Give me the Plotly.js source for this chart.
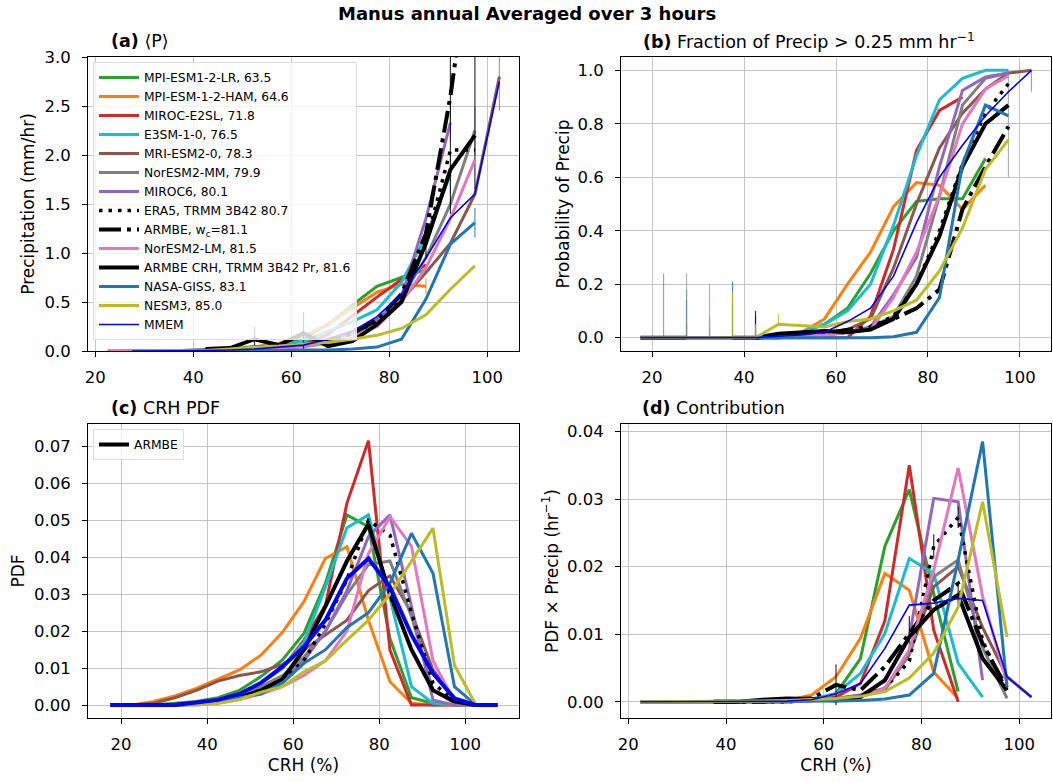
<!DOCTYPE html>
<html><head><meta charset="utf-8">
<script src="https://cdn.plot.ly/plotly-3.0.1.min.js"></script>
<style>html,body{margin:0;padding:0;background:#fff}</style>
</head><body><div id="chart" style="width:1053px;height:782px"></div>
<script>
// ---------------- DATA ----------------
const crhA = [22.5,27.5,32.5,37.5,42.5,47.5,52.5,57.5,62.5,67.5,72.5,77.5,82.5,87.5,92.5,97.5,102.5];
const crhB = [17.5,22.5,27.5,32.5,37.5,42.5,47.5,52.5,57.5,62.5,67.5,72.5,77.5,82.5,87.5,92.5,97.5,102.5];
const crhC = [17.5,22.5,27.5,32.5,37.5,42.5,47.5,52.5,57.5,62.5,67.5,72.5,77.5,82.5,87.5,92.5,97.5,102.5,107.5];
const crhD = [22.5,27.5,32.5,37.5,42.5,47.5,52.5,57.5,62.5,67.5,72.5,77.5,82.5,87.5,92.5,97.5,102.5];

const seriesNames = ['MPI-ESM1-2-LR, 63.5','MPI-ESM-1-2-HAM, 64.6','MIROC-E2SL, 71.8','E3SM-1-0, 76.5','MRI-ESM2-0, 78.3','NorESM2-MM, 79.9','MIROC6, 80.1','ERA5, TRMM 3B42 80.7','ARMBE, w<sub>c</sub>=81.1','NorESM2-LM, 81.5','ARMBE CRH, TRMM 3B42 Pr, 81.6','NASA-GISS, 83.1','NESM3, 85.0','MMEM'];

// (a) mean precipitation (mm/hr)
const a_LR     = [null,0,0,0.005,0.01,0.02,0.04,0.07,0.13,0.27,0.47,0.66,0.75,0.83,null,null,null];
const a_HAM    = [null,0,0,0.005,0.01,0.02,0.04,0.08,0.15,0.27,0.44,0.6,0.68,0.66,null,null,null];
const a_E2SL   = [null,null,0,0,0.005,0.01,0.02,0.03,0.07,0.17,0.36,0.55,0.73,0.88,null,null,null];
const a_E3SM   = [null,0,0,0,0.01,0.02,0.04,0.06,0.1,0.2,0.3,0.42,0.7,1.17,1.8,null,null];
const a_MRI    = [0,0,0,0.005,0.01,0.02,0.03,0.04,0.07,0.12,0.2,0.32,0.52,0.8,1.1,1.6,2.8];
const a_MM     = [null,0,0,0,0.005,0.01,0.02,0.03,0.05,0.1,0.17,0.3,0.55,0.95,1.5,2.25,null];
const a_MIROC6 = [null,0,0,0,0.005,0.01,0.02,0.03,0.05,0.09,0.16,0.3,0.56,1.35,2.33,null,null];
const a_ERA5   = [null,null,null,null,0.005,0.01,0.02,0.03,0.05,0.1,0.18,0.3,0.55,1.1,2.05,2.05,null];
const a_ARMBEwc= [null,null,null,null,0.01,0.02,0.03,0.04,0.06,0.1,0.18,0.32,0.58,1.2,2.6,4.4,null];
const a_LM     = [0,0,0,0,0.005,0.01,0.02,0.03,0.04,0.08,0.14,0.25,0.5,0.85,1.35,1.95,null];
const a_ARMBE  = [null,null,null,null,0.02,0.03,0.12,0.06,0.18,0.05,0.1,0.27,0.5,1.1,1.85,2.2,null];
const a_GISS   = [null,0,0,0,0,0,0,0.005,0.01,0.01,0.02,0.04,0.12,0.53,1.09,1.31,null];
const a_NESM3  = [null,0,0,0,0.005,0.02,0.04,0.05,0.07,0.09,0.12,0.16,0.23,0.37,0.63,0.87,null];
const a_MMEM   = [null,0,0,0,0.005,0.01,0.02,0.04,0.06,0.12,0.2,0.35,0.58,0.95,1.36,1.6,2.75];
// (a) error bars (symmetric)
const ea_HAM    = [0,0,0,0,0,0,0,0,0,0,0,0,0,0.08,0,0,0];
const ea_E3SM   = [0,0,0,0,0,0,0,0,0,0,0,0,0,0,0.2,0,0];
const ea_MRI    = [0,0,0,0,0,0,0,0,0,0,0,0,0,0,0,0,0.35];
const ea_MM     = [0,0,0,0,0,0,0,0,0,0,0,0,0,0,0,0.25,0];
const ea_MIROC6 = [0,0,0,0,0,0,0,0,0,0,0,0,0,0,0.18,0,0];
const ea_ARMBEwc= [0,0,0,0,0,0,0,0,0,0,0,0,0,0,1.2,2.75,0];
const ea_ARMBE  = [0,0,0,0,0,0,0.13,0,0.22,0,0,0,0,0.16,0,0,0];
const ea_GISS   = [0,0,0,0,0,0,0,0,0,0,0,0,0,0,0,0.15,0];

// (b) fraction of precip > 0.25 mm/hr
const b_LR     = [0,0,0,0,0,0,0.005,0.02,0.05,0.11,0.24,0.4,0.51,0.52,0.52,0.67,null,null];
const b_HAM    = [0,0,0,0,0,0,0.005,0.02,0.07,0.2,0.32,0.49,0.58,0.57,0.48,0.57,null,null];
const b_E2SL   = [0,0,0,0,0,0,0,0,0,0,0.08,0.33,0.7,0.85,0.9,null,null,null];
const b_E3SM   = [0,0,0,0,0,0,0.01,0.02,0.05,0.1,0.2,0.42,0.68,0.89,0.97,1.0,1.0,null];
const b_MRI    = [0,0,0,0,0,0,0,0.01,0.02,0.03,0.07,0.26,0.5,0.71,0.84,0.93,0.99,1.0];
const b_MM     = [0,0,0,0,0,0,0,0.005,0.01,0.02,0.04,0.08,0.23,0.53,0.87,0.97,0.99,null];
const b_MIROC6 = [0,0,0,0,0,0,0,0.005,0.01,0.02,0.04,0.16,0.3,0.64,0.925,0.975,0.99,null];
const b_ERA5   = [null,null,null,null,null,0,0.005,0.01,0.015,0.02,0.04,0.08,0.2,0.4,0.65,0.84,0.95,null];
const b_ARMBEwc= [null,null,null,null,null,0,0.005,0.01,0.015,0.03,0.04,0.07,0.11,0.18,0.48,0.64,0.79,null];
const b_LM     = [0,0,0,0,0,0,0,0.005,0.01,0.02,0.03,0.15,0.32,0.53,0.8,0.93,0.98,null];
const b_ARMBE  = [0,0,0,null,0,0,0.015,0.02,0.025,0.02,0.03,0.07,0.2,0.38,0.64,0.8,0.87,null];
const b_GISS   = [0,0,0,0,0,0,0,0,0,0,0,0.003,0.02,0.15,0.65,0.87,0.83,null];
const b_NESM3  = [0,0,0,0,0,0,0.05,0.045,0.04,0.06,0.07,0.1,0.14,0.25,0.41,0.63,0.74,null];
const b_MMEM   = [0,0,0,0,0,0,0.005,0.01,0.02,0.06,0.11,0.23,0.43,0.6,0.72,0.83,0.92,1.0];
// (b) error bars: upward and downward extents
const eb_LR     = [0,0,0.14,0.04,0,0,0,0,0,0,0,0,0,0,0,0,0,0];
const eb_HAM    = [0,0,0.05,0,0,0,0,0,0,0,0,0,0,0,0,0,0,0];
const eb_E3SM   = [0,0,0.18,0.08,0,0,0,0,0,0,0,0,0,0,0,0,0,0];
const eb_MRI    = [0,0.24,0,0,0,0,0,0,0,0,0,0,0,0,0,0,0,0];
const eb_MRI_dn = [0,0,0,0,0,0,0,0,0,0,0,0,0,0,0,0,0,0.08];
const eb_MM     = [0,0,0.24,0,0.13,0,0,0,0,0,0,0,0,0,0,0,0,0];
const eb_MM_dn  = [0,0,0,0,0,0,0,0,0,0,0,0,0,0,0,0,0.39,0];
const eb_MIROC6 = [0,0,0,0,0,0.08,0,0,0,0,0,0,0,0,0,0,0,0];
const eb_LM     = [0,0,0,0.2,0,0,0,0,0,0,0,0,0,0,0,0,0,0];
const eb_ARMBE  = [0,0,0,0,0,0.1,0,0,0,0,0,0,0,0,0,0,0,0];
const eb_GISS   = [0,0,0,0,0.21,0,0,0,0,0,0,0,0,0,0,0,0,0];
const eb_NESM3  = [0,0,0,0,0.17,0.05,0.04,0,0,0,0,0,0,0,0,0,0,0];

// (c) CRH PDF
const c_LR     = [0,0,0,0.0005,0.001,0.002,0.004,0.0077,0.0122,0.0194,0.033,0.0515,0.0483,0.018,0.002,0.0005,0,0,0];
const c_HAM    = [0,0,0.001,0.0025,0.0045,0.007,0.0095,0.0135,0.0197,0.028,0.0397,0.0429,0.023,0.0063,0.0005,0,0,0,0];
const c_E2SL   = [0,0,0,0,0.0005,0.0015,0.003,0.006,0.01,0.0176,0.027,0.0547,0.0716,0.0149,0,0,0,0,0];
const c_E3SM   = [0,0,0,0,0.0005,0.0015,0.003,0.006,0.01,0.017,0.032,0.048,0.0515,0.029,0.005,0.0005,0,0,0];
const c_MRI    = [0,0,0.0005,0.002,0.004,0.0065,0.008,0.009,0.011,0.015,0.019,0.023,0.031,0.035,0.025,0.0095,0.0018,0,0];
const c_MM     = [0,0,0,0,0.0005,0.001,0.0025,0.005,0.008,0.013,0.02,0.03,0.038,0.039,0.024,0.004,0.0005,0,0];
const c_MIROC6 = [0,0,0,0,0.0005,0.001,0.002,0.004,0.007,0.012,0.02,0.031,0.0456,0.0515,0.0267,0.0013,0,0,0];
const c_ERA5   = [null,null,0,0,0.0005,0.001,0.002,0.004,0.007,0.012,0.022,0.034,0.05,0.046,0.025,0.006,0.001,0,null];
const c_LM     = [0,0,0,0,0,0.0005,0.0015,0.003,0.005,0.008,0.012,0.02,0.041,0.051,0.043,0.012,0.001,0,0];
const c_ARMBE  = [0,0,0,0,0.0005,0.001,0.002,0.004,0.007,0.015,0.0267,0.039,0.049,0.03,0.015,0.004,0.001,0,0];
const c_GISS   = [0,0,0,0,0.0005,0.001,0.002,0.003,0.006,0.0113,0.015,0.021,0.025,0.033,0.0465,0.0357,0.005,0,0];
const c_NESM3  = [0,0,0,0,0,0.0005,0.0015,0.0035,0.005,0.009,0.012,0.0176,0.023,0.03,0.039,0.0479,0.0108,0,0];
const c_MMEM   = [0,0,0,0,0.0007,0.0014,0.003,0.006,0.0104,0.0158,0.023,0.0343,0.0397,0.032,0.019,0.0086,0.0018,0,0];

// (d) contribution PDF x Precip (1/hr)
const d_LR     = [0,0,0,0,0,0,0,0.0003,0.0012,0.0064,0.023,0.0314,0.016,0.0015,null,null,null];
const d_HAM    = [0,0,0,0,0,0,0.0002,0.001,0.0037,0.0094,0.019,0.0165,0.0044,0.0005,null,null,null];
const d_E2SL   = [0,0,0,0,0,0,0,0.0002,0.0007,0.0027,0.012,0.035,0.0106,0,null,null,null];
const d_E3SM   = [0,0,0,0,0,0,0.0001,0.0004,0.0012,0.0042,0.0101,0.0212,0.019,0.0057,0.0007,null,null];
const d_MRI    = [0,0,0,0,0,0,0,0.0002,0.0005,0.001,0.002,0.007,0.017,0.02,0.011,0.0037,0.0007];
const d_MM     = [0,0,0,0,0,0,0,0.0002,0.0004,0.0008,0.0017,0.007,0.0185,0.021,0.008,0.0005,null];
const d_MIROC6 = [0,0,0,0,0,0,0,0.0002,0.0004,0.001,0.003,0.0096,0.0301,0.0296,0.0032,null,null];
const d_ERA5   = [null,null,null,0,0,0,0,0.0002,0.0003,0.0008,0.002,0.006,0.023,0.0273,0.009,0.0015,null];
const d_ARMBEwc= [null,null,null,0,0,0,0.0003,0.0005,0.0025,0.0017,0.0052,0.0101,0.015,0.0175,0.0086,0.002,null];
const d_LM     = [0,0,0,0,0,0,0,0.0001,0.0003,0.0008,0.002,0.0077,0.0195,0.0346,0.0156,0.0027,null];
const d_ARMBE  = [null,null,null,0,0,0.0003,0.0005,0.0004,0.0002,0.0007,0.0032,0.0096,0.0136,0.0158,0.0064,0.0017,null];
const d_GISS   = [0,0,0,0,0,0,0,0,0.0001,0.0002,0.0004,0.001,0.0042,0.021,0.0385,0.0022,null];
const d_NESM3  = [0,0,0,0,0,0.0001,0.0002,0.0003,0.0005,0.0008,0.0015,0.0035,0.0072,0.014,0.0296,0.0096,null];
const d_MMEM   = [0,0,0,0,0,0,0.0001,0.0003,0.0012,0.0027,0.0079,0.0143,0.0146,0.0153,0.015,0.0037,0.0007];
// (d) error bars (symmetric)
const ed_ERA5   = [0,0,0,0,0,0,0,0,0,0,0,0,0.0018,0.0016,0,0,0];
const ed_ARMBEwc= [0,0,0,0,0,0,0,0,0.003,0,0,0.0026,0,0,0,0,0];
const ed_ARMBE  = [0,0,0,0,0,0,0,0,0,0,0,0,0,0.0019,0,0,0];

// ---------------- STYLE ----------------
const W = 1053, H = 782;
const FONT = 'DejaVu Sans, Verdana, sans-serif';
const fx = p => p / W, fy = p => 1 - p / H;

const styles = [
  {color:'#2ca02c', err:'rgba(44,160,44,0.7)', w:3},
  {color:'#ff7f0e', err:'rgba(255,127,14,0.7)', w:3},
  {color:'#d62728', err:'rgba(214,39,40,0.7)', w:3},
  {color:'#17becf', err:'rgba(23,190,207,0.7)', w:3},
  {color:'#8c564b', err:'rgba(140,86,75,0.6)', w:3},
  {color:'#7f7f7f', err:'rgba(127,127,127,0.6)', w:3},
  {color:'#9467bd', err:'rgba(148,103,189,0.7)', w:3},
  {color:'#000000', err:'rgba(0,0,0,0.8)', w:3.5, dash:'3.5px,6px'},
  {color:'#000000', err:'rgba(0,0,0,0.8)', w:4, dash:'22px,6px,4px,6px'},
  {color:'#e377c2', err:'rgba(227,119,194,0.8)', w:3},
  {color:'#000000', err:'rgba(0,0,0,0.8)', w:4},
  {color:'#1f77b4', err:'rgba(31,119,180,0.8)', w:3},
  {color:'#bcbd22', err:'rgba(188,189,34,0.8)', w:3},
  {color:'#0000ff', err:'rgba(0,0,255,0.8)', w:1.6, wc:4}
];

const panelA = [a_LR,a_HAM,a_E2SL,a_E3SM,a_MRI,a_MM,a_MIROC6,a_ERA5,a_ARMBEwc,a_LM,a_ARMBE,a_GISS,a_NESM3,a_MMEM];
const errA   = [null,ea_HAM,null,ea_E3SM,ea_MRI,ea_MM,ea_MIROC6,null,ea_ARMBEwc,null,ea_ARMBE,ea_GISS,null,null];
const panelB = [b_LR,b_HAM,b_E2SL,b_E3SM,b_MRI,b_MM,b_MIROC6,b_ERA5,b_ARMBEwc,b_LM,b_ARMBE,b_GISS,b_NESM3,b_MMEM];
const errBup = [eb_LR,eb_HAM,null,eb_E3SM,eb_MRI,eb_MM,eb_MIROC6,null,null,eb_LM,eb_ARMBE,eb_GISS,eb_NESM3,null];
const errBdn = [null,null,null,null,eb_MRI_dn,eb_MM_dn,null,null,null,null,null,null,null,null];
const panelC = [c_LR,c_HAM,c_E2SL,c_E3SM,c_MRI,c_MM,c_MIROC6,c_ERA5,null,c_LM,c_ARMBE,c_GISS,c_NESM3,c_MMEM];
const panelD = [d_LR,d_HAM,d_E2SL,d_E3SM,d_MRI,d_MM,d_MIROC6,d_ERA5,d_ARMBEwc,d_LM,d_ARMBE,d_GISS,d_NESM3,d_MMEM];
const errD   = [null,null,null,null,null,null,null,ed_ERA5,ed_ARMBEwc,null,ed_ARMBE,null,null,null];

const zeros = n => new Array(n).fill(0);
const traces = [];
function addPanel(xs, vals, errUp, errDn, xa, ya, panel){
  vals.forEach((v, i) => {
    if (!v) return;
    const s = styles[i];
    let w = s.w;
    if (panel === 'c' && s.wc) w = s.wc;
    const tr = {
      type:'scatter', mode:'lines', x:xs, y:v, xaxis:xa, yaxis:ya,
      name: seriesNames[i], showlegend:false, hoverinfo:'skip',
      line:{color:s.color, width:w, dash:s.dash || 'solid'}
    };
    if (panel === 'a') { tr.showlegend = true; tr.legend = 'legend'; }
    if (panel === 'c' && i === 10) { tr.showlegend = true; tr.legend = 'legend2'; tr.name = 'ARMBE'; }
    const up = errUp ? errUp[i] : null, dn = errDn ? errDn[i] : null;
    if (up || dn) {
      tr.error_y = {type:'data', symmetric:false,
        array: up || zeros(xs.length), arrayminus: dn || zeros(xs.length),
        width:0, thickness:1.2, color:s.err};
    }
    traces.push(tr);
  });
}
addPanel(crhA, panelA, errA, errA, 'x', 'y', 'a');
addPanel(crhB, panelB, errBup, errBdn, 'x2', 'y2', 'b');
addPanel(crhC, panelC, null, null, 'x3', 'y3', 'c');
addPanel(crhD, panelD, errD, errD, 'x4', 'y4', 'd');

const tickFont = {family:FONT, size:16.5, color:'#000'};
const titleFont = {family:FONT, size:17, color:'#000'};
function ax(extra){
  return Object.assign({
    showline:true, mirror:true, linecolor:'#000', linewidth:1,
    ticks:'outside', ticklen:5, tickwidth:1, tickcolor:'#000',
    showgrid:true, gridcolor:'#c4c4c4', gridwidth:1, zeroline:false,
    tickfont:tickFont, automargin:false, fixedrange:true
  }, extra);
}
const xTicks = [20,40,60,80,100];
const topDom = [fy(351), fy(57)], botDom = [fy(718), fy(424)];
const leftDom = [fx(88), fx(519)], rightDom = [fx(621), fx(1051)];

const layout = {
  width:W, height:H, margin:{l:0,r:0,t:0,b:0},
  paper_bgcolor:'#fff', plot_bgcolor:'#fff',
  font:{family:FONT, color:'#000'},
  showlegend:true,
  xaxis:  ax({domain:leftDom,  range:[18.5,106.5], anchor:'y',  tickvals:xTicks, ticklabelstandoff:6}),
  yaxis:  ax({domain:topDom,   range:[0,3], anchor:'x', tickvals:[0,0.5,1,1.5,2,2.5,3], tickformat:'.1f', ticklabelstandoff:8,
              title:{text:'Precipitation (mm/hr)', font:titleFont, standoff:5}}),
  xaxis2: ax({domain:rightDom, range:[13.25,106.75], anchor:'y2', tickvals:xTicks, ticklabelstandoff:6}),
  yaxis2: ax({domain:topDom,   range:[-0.05,1.05], anchor:'x2', tickvals:[0,0.2,0.4,0.6,0.8,1.0], tickformat:'.1f', ticklabelstandoff:8,
              title:{text:'Probability of Precip', font:titleFont, standoff:3}}),
  xaxis3: ax({domain:leftDom,  range:[12.3,112.5], anchor:'y3', tickvals:xTicks, ticklabelstandoff:6,
              title:{text:'CRH (%)', font:titleFont, standoff:6}}),
  yaxis3: ax({domain:botDom,   range:[-0.0035,0.0761], anchor:'x3', tickvals:[0,0.01,0.02,0.03,0.04,0.05,0.06,0.07], tickformat:'.2f', ticklabelstandoff:8,
              title:{text:'PDF', font:titleFont, standoff:5}}),
  xaxis4: ax({domain:rightDom, range:[18.5,106.5], anchor:'y4', tickvals:xTicks, ticklabelstandoff:6,
              title:{text:'CRH (%)', font:titleFont, standoff:6}}),
  yaxis4: ax({domain:botDom,   range:[-0.0024,0.0411], anchor:'x4', tickvals:[0,0.01,0.02,0.03,0.04], tickformat:'.2f', ticklabelstandoff:8,
              title:{text:'PDF × Precip (hr<sup>−1</sup>)', font:titleFont, standoff:4}}),
  legend: {x:fx(93), y:fy(62), xanchor:'left', yanchor:'top', bgcolor:'rgba(255,255,255,0.8)',
           bordercolor:'#dddddd', borderwidth:1, font:{family:FONT, size:12.3, color:'#000'},
           itemwidth:40, traceorder:'normal', tracegroupgap:0},
  legend2:{x:fx(93), y:fy(429), xanchor:'left', yanchor:'top', bgcolor:'rgba(255,255,255,0.8)',
           bordercolor:'#dddddd', borderwidth:1, font:{family:FONT, size:12.3, color:'#000'},
           itemwidth:30},
  annotations:[
    {text:'<b>Manus annual Averaged over 3 hours</b>', xref:'paper', yref:'paper', x:0.5, y:fy(13),
     xanchor:'center', yanchor:'middle', showarrow:false, font:{family:FONT, size:18, color:'#000'}},
    {text:'<b>(a)</b> ⟨P⟩', xref:'paper', yref:'paper', x:fx(109), y:fy(41), xanchor:'left', yanchor:'middle',
     showarrow:false, font:{family:FONT, size:17.5, color:'#000'}},
    {text:'<b>(b)</b> Fraction of Precip > 0.25 mm hr<sup>−1</sup>', xref:'paper', yref:'paper', x:fx(641), y:fy(41),
     xanchor:'left', yanchor:'middle', showarrow:false, font:{family:FONT, size:17.5, color:'#000'}},
    {text:'<b>(c)</b> CRH PDF', xref:'paper', yref:'paper', x:fx(109), y:fy(408), xanchor:'left', yanchor:'middle',
     showarrow:false, font:{family:FONT, size:17.5, color:'#000'}},
    {text:'<b>(d)</b> Contribution', xref:'paper', yref:'paper', x:fx(640), y:fy(408), xanchor:'left', yanchor:'middle',
     showarrow:false, font:{family:FONT, size:17.5, color:'#000'}}
  ]
};

Plotly.newPlot('chart', traces, layout, {displayModeBar:false, staticPlot:true});
</script>
</body></html>
